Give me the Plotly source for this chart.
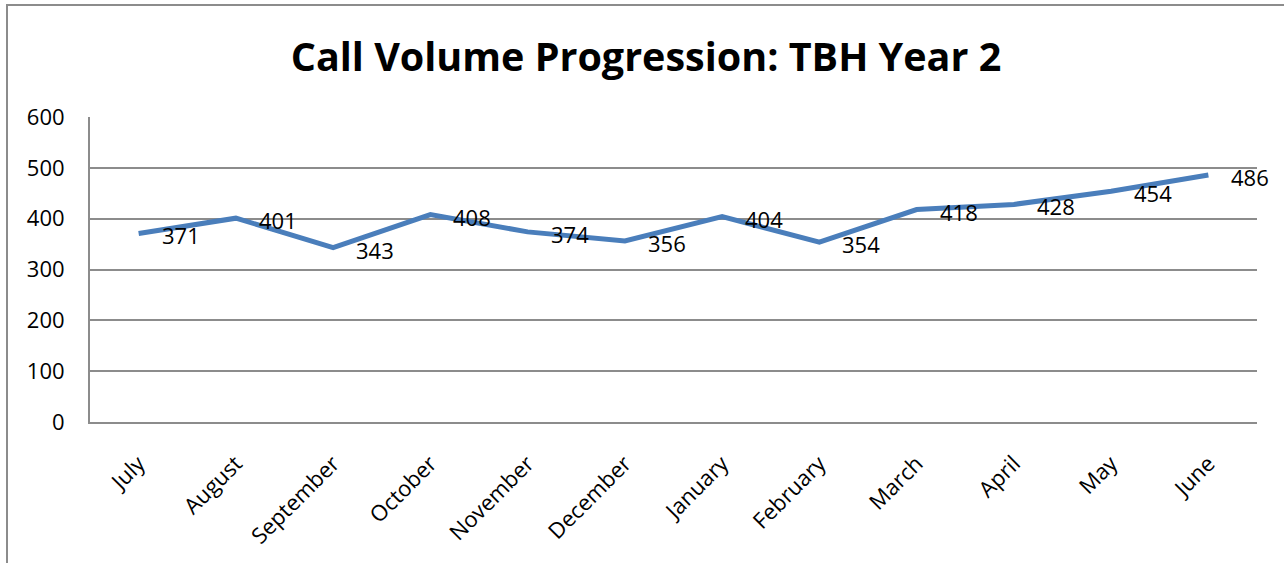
import plotly.graph_objects as go

months = ["July", "August", "September", "October", "November", "December",
          "January", "February", "March", "April", "May", "June"]
calls = [371, 401, 343, 408, 374, 356, 404, 354, 418, 428, 454, 486]
y_ticks = [0, 100, 200, 300, 400, 500, 600]

W, H = 1284, 563
L, R, T, B = 90, 27, 117, 141
FONT = "Open Sans"

fig = go.Figure()
fig.add_trace(go.Scatter(
    x=list(range(len(months))), y=calls, mode="lines",
    line=dict(color="#4A7EBB", width=5), hoverinfo="skip", showlegend=False,
))

annotations = []
for i, v in enumerate(calls):
    annotations.append(dict(
        x=i, y=v, xref="x", yref="y", text=str(v), showarrow=False,
        xanchor="left", yanchor="middle", xshift=21, yshift=-2,
        font=dict(family=FONT, size=22, color="#000000"),
    ))

pw = W - L - R
ph = H - T - B
fig.update_layout(
    width=W, height=H,
    margin=dict(l=L, r=R, t=T, b=B),
    paper_bgcolor="white", plot_bgcolor="white",
    title=dict(text="<b>Call Volume Progression: TBH Year 2</b>",
               x=(646 - L) / pw, xref="paper", xanchor="center",
               y=1 - 57 / H, yref="container", yanchor="middle",
               font=dict(family=FONT, size=39.5, color="#000000")),
    annotations=annotations,
    shapes=[dict(type="rect", xref="paper", yref="paper",
                 x0=(7 - L) / pw, x1=(W + 5 - L) / pw,
                 y0=-(H + 5 - T - ph) / ph, y1=1 + (T - 5) / ph,
                 line=dict(color="#8C8C8C", width=2), layer="below")],
    xaxis=dict(
        range=[-0.5, len(months) - 0.5],
        tickmode="array", tickvals=list(range(len(months))), ticktext=months,
        tickangle=-45, showgrid=False, zeroline=False,
        showline=True, linecolor="#8C8C8C", linewidth=2,
        ticks="", ticklabelstandoff=18,
        tickfont=dict(family=FONT, size=22, color="#000000"),
    ),
    yaxis=dict(
        range=[0, 600], tickmode="array", tickvals=y_ticks,
        showgrid=True, gridcolor="#8C8C8C", gridwidth=2, zeroline=False,
        showline=True, linecolor="#8C8C8C", linewidth=2,
        ticks="", ticklabelstandoff=19,
        tickfont=dict(family=FONT, size=22, color="#000000"),
    ),
)

fig.write_html("out.html", config={"displayModeBar": False},
               post_script="document.body.style.margin='0';document.body.style.overflow='hidden';")
